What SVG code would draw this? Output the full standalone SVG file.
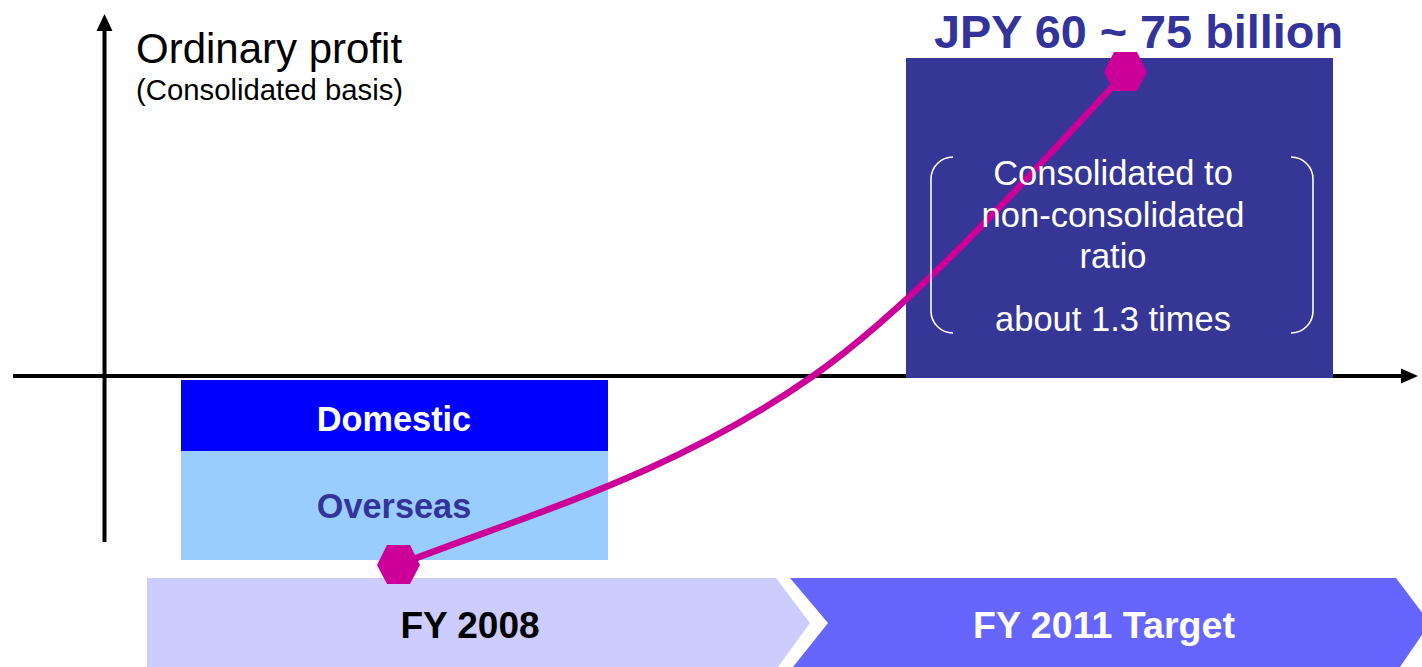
<svg xmlns="http://www.w3.org/2000/svg" width="1422" height="667" viewBox="0 0 1422 667">
<style>
.t{font-family:"Liberation Sans",Arial,sans-serif}
.b{font-weight:bold}
.axis{stroke:#000;stroke-width:4;fill:none}
.hex{fill:#CC0099}
.wt{fill:#fff;font-size:34.5px;text-anchor:middle}
.br{fill:none;stroke:#fff;stroke-width:1.6}
</style>
<rect width="1422" height="667" fill="#fff"/>
<g id="axes">
<line class="axis" x1="104.5" y1="542" x2="104.5" y2="28"/>
<polygon points="104.5,14 96.5,31 112.5,31" fill="#000"/>
<line class="axis" x1="13" y1="376" x2="1404" y2="376"/>
<polygon points="1418,376 1401,368.5 1401,383.5" fill="#000"/>
</g>
<g id="title">
<text class="t" x="136" y="63" font-size="42">Ordinary profit</text>
<text class="t" x="136" y="100" font-size="29.3">(Consolidated basis)</text>
</g>
<g id="fy2008-bar">
<rect x="181" y="380" width="427" height="71" fill="#0000FF"/>
<rect x="181" y="451" width="427" height="109" fill="#99CCFF"/>
<text class="t b" x="394" y="431" font-size="34.3" fill="#fff" text-anchor="middle">Domestic</text>
<text class="t b" x="394" y="518" font-size="34.3" fill="#333399" text-anchor="middle">Overseas</text>
</g>
<g id="fy2008">
<polygon points="147,578 776,578 810,623 778,667 147,667" fill="#CCCCFF"/>
<text class="t b" x="470" y="638" font-size="37" text-anchor="middle">FY 2008</text>
</g>
<g id="fy2011">
<polygon points="790,578 1396,578 1430,623 1400,667 793,667 828,623" fill="#6666FF"/>
<text class="t b" x="1104" y="638" font-size="37.6" fill="#fff" text-anchor="middle">FY 2011 Target</text>
</g>
<g id="target-box">
<rect x="906" y="58" width="427" height="320" fill="#363696"/>
</g>
<g id="target-label">
<text class="t b" x="934" y="48" font-size="47" fill="#333399" textLength="409" lengthAdjust="spacingAndGlyphs">JPY 60 ~ 75 billion</text>
</g>
<g id="connectors">
<path d="M398,565 C538,511 673,474 813,376 C913,306 1026,180 1126,72" fill="none" stroke="#CC0099" stroke-width="6.5"/>
</g>
<g id="points">
<polygon class="hex" points="377,565 387,545 410,545 420,565 410,584 387,584"/>
<polygon class="hex" points="1104,72 1114,52 1137,52 1147,72 1137,91 1114,91"/>
</g>
<g id="ratio">
<path class="br" d="M953,157 A22,22 0 0 0 931,179 L931,311 A22,22 0 0 0 953,333"/>
<path class="br" d="M1291,157 A22,22 0 0 1 1313,179 L1313,311 A22,22 0 0 1 1291,333"/>
<text class="t wt" x="1113" y="185">Consolidated to</text>
<text class="t wt" x="1113" y="227">non-consolidated</text>
<text class="t wt" x="1113" y="268">ratio</text>
<text class="t wt" x="1113" y="331">about 1.3 times</text>
</g>
</svg>
